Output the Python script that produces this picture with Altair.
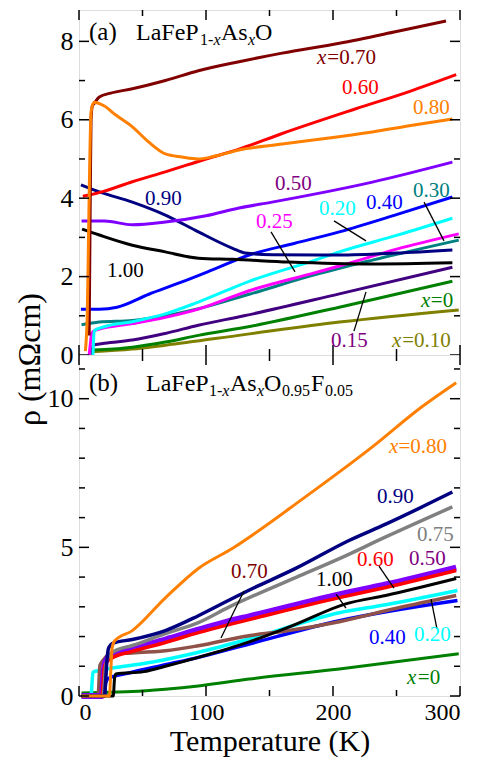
import altair as alt
import pandas as pd

FONT = "Liberation Serif, Times New Roman, Times, serif"
W = 381
HA = 345
HB = 341
XDOM = [0, 300]
YDOM_A = [0, 8.8]
YDOM_B = [0, 11.47]

X_MAJOR = [0, 100, 200, 300]
X_MINOR = [50, 150, 250]
YA_MAJOR = [0, 2, 4, 6, 8]
YA_MINOR = [1, 3, 5, 7]
YB_MAJOR = [0, 5, 10]
YB_MINOR = [1, 2, 3, 4, 6, 7, 8, 9, 11]

# ---------------- panel (a): LaFeP1-xAsxO ----------------
A010_T = [10, 42, 68, 130, 205, 299]
A010_R = [0.08, 0.15, 0.25, 0.52, 0.84, 1.15]
A000_T = [10, 20, 42, 68, 94, 130, 205, 294]
A000_R = [0.13, 0.14, 0.2, 0.33, 0.5, 0.7, 1.22, 1.88]
A015_T = [10, 11, 20, 42, 68, 94, 130, 205, 294]
A015_R = [0.0, 0.25, 0.3, 0.38, 0.55, 0.76, 1.0, 1.56, 2.24]
A030_T = [2, 16, 42, 68, 94, 134, 186, 231, 299]
A030_R = [0.77, 0.84, 0.88, 1.0, 1.18, 1.55, 2.05, 2.42, 2.93]
A025_T = [8, 9, 10, 12, 16, 42, 68, 94, 134, 186, 205, 250, 299]
A025_R = [0.0, 0.3, 0.55, 0.62, 0.66, 0.8, 0.96, 1.17, 1.64, 2.1, 2.27, 2.7, 3.09]
A020_T = [11, 11.5, 12, 20, 42, 68, 94, 134, 186, 205, 250, 294]
A020_R = [0.0, 0.4, 0.62, 0.72, 0.85, 1.05, 1.35, 1.88, 2.42, 2.63, 3.05, 3.49]
A040_T = [1.5, 16, 30, 55, 80, 105, 134, 170, 205, 250, 294]
A040_R = [1.17, 1.17, 1.22, 1.55, 1.85, 2.17, 2.55, 2.85, 3.14, 3.58, 4.03]
A100_T = [2.4, 16, 42, 68, 94, 121, 165, 231, 294]
A100_R = [3.21, 3.06, 2.8, 2.63, 2.47, 2.44, 2.37, 2.32, 2.35]
A090_T = [1.5, 16, 42, 68, 94, 121, 131, 152, 205, 250, 294]
A090_R = [4.34, 4.16, 3.9, 3.57, 3.14, 2.72, 2.6, 2.56, 2.55, 2.6, 2.68]
A050_T = [2, 20, 42, 68, 100, 126, 152, 231, 294]
A050_R = [3.42, 3.42, 3.32, 3.39, 3.55, 3.75, 3.9, 4.41, 4.92]
A060_T = [3, 8, 20, 42, 68, 100, 126, 160, 218, 260, 297]
A060_R = [4.05, 4.08, 4.18, 4.42, 4.67, 5.0, 5.25, 5.65, 6.28, 6.72, 7.15]
A080_T = [5, 6.5, 7.5, 8.5, 9.5, 11.8, 20, 29, 42, 55, 68, 81, 94, 108, 126, 160, 200, 231, 260, 294]
A080_R = [0.1, 1.0, 3.0, 5.0, 6.2, 6.45, 6.35, 6.12, 5.82, 5.43, 5.13, 5.05, 5.0, 5.08, 5.23, 5.38, 5.55, 5.69, 5.85, 6.02]
A070_T = [8, 8.5, 9, 9.5, 10.5, 12, 16, 25, 42, 68, 94, 126, 160, 205, 250, 289]
A070_R = [0.5, 2.5, 4.5, 6.0, 6.35, 6.42, 6.58, 6.68, 6.79, 7.0, 7.25, 7.48, 7.7, 7.95, 8.25, 8.52]

A_SERIES = [
    (A010_T, A010_R, "#808000", 3),
    (A000_T, A000_R, "#008000", 3),
    (A015_T, A015_R, "#400080", 3),
    (A030_T, A030_R, "#008080", 3),
    (A025_T, A025_R, "#FF00FF", 3),
    (A020_T, A020_R, "#00FFFF", 3),
    (A040_T, A040_R, "#0000FF", 3),
    (A100_T, A100_R, "#000000", 3),
    (A090_T, A090_R, "#000080", 3),
    (A050_T, A050_R, "#8000FF", 3),
    (A060_T, A060_R, "#FF0000", 3),
    (A070_T, A070_R, "#800000", 3),
    (A080_T, A080_R, "#FF8000", 3),
]

A_LBL_TEXT = ["=0.70", "0.60", "0.80", "0.50", "0.30", "0.40", "0.20", "0.25", "0.90", "1.00", "=0", "0.15", "=0.10"]
A_LBL_T = [195.5, 207.1, 263, 154.3, 263, 226, 189, 139.4, 52, 22, 277.0, 198.4, 254.5]
A_LBL_R = [7.42, 6.66, 6.15, 4.21, 4.03, 3.72, 3.57, 3.24, 3.83, 1.99, 1.22, 0.20, 0.20]
A_LBL_C = ["#800000", "#FF0000", "#FF8000", "#800080", "#008080", "#0000FF", "#00FFFF", "#FF00FF",
           "#000080", "#000000", "#008000", "#800080", "#808000"]
A_XI_T = [187.4, 269.3, 246.5]
A_XI_R = [7.42, 1.22, 0.20]
A_XI_C = ["#800000", "#008000", "#808000"]

A_FORM_TEXT = ["(a)", "LaFeP", "1-", "As", "O"]
A_FORM_T = [7.87, 44.88, 95.28, 111.8, 138.6]
A_FORM_R = [8.04, 8.04, 7.91, 8.04, 8.04]
A_FORM_S = [25, 24, 16, 24, 24]
A_FORMI_T = [105.9, 133.1]
A_FORMI_R = [7.91, 7.91]

A_LEAD_T = [151.2, 200.8, 271.7, 216.5]
A_LEAD_R = [3.14, 3.42, 3.90, 0.61]
A_LEAD_T2 = [170.1, 226.0, 287.4, 226.0]
A_LEAD_R2 = [2.12, 2.91, 2.91, 1.61]

# ---------------- panel (b): LaFeP1-xAsxO0.95F0.05 ----------------
B000_T = [2, 24.6, 42, 68, 94, 134, 205, 299]
B000_R = [0.1, 0.13, 0.15, 0.23, 0.34, 0.57, 0.91, 1.42]
B040_T = [2, 20, 21, 23, 38, 68, 94, 134, 205, 298]
B040_R = [0, 0, 0.45, 0.59, 0.76, 1.05, 1.3, 1.75, 2.53, 3.21]
B020_T = [2, 9.5, 10.2, 11, 15, 24.6, 51, 90, 134, 205, 241.5, 298]
B020_R = [0.0, 0.0, 0.4, 0.8, 0.85, 0.93, 1.09, 1.43, 1.92, 2.8, 3.07, 3.55]
B100_T = [2, 27, 28, 29, 51, 68, 94, 134, 170, 210, 241.5, 297]
B100_R = [0, 0, 0.6, 0.74, 0.82, 1.0, 1.3, 1.82, 2.4, 3.1, 3.38, 3.95]
B070_T = [2, 15, 16.5, 19, 24.7, 42, 68, 94, 134, 160, 205, 250, 297]
B070_R = [0, 0, 1.03, 1.2, 1.42, 1.45, 1.52, 1.69, 2.03, 2.17, 2.5, 2.95, 3.38]
B050_T = [2, 18, 19, 20, 22, 26, 42, 68, 94, 118, 134, 205, 241.5, 297]
B050_R = [0, 0, 0.5, 1.02, 1.25, 1.38, 1.6, 1.9, 2.23, 2.52, 2.68, 3.42, 3.75, 4.32]
B060_T = [2, 18, 19, 20, 22, 26, 42, 68, 94, 118, 134, 205, 241.5, 297]
B060_R = [0, 0, 0.45, 0.97, 1.15, 1.28, 1.5, 1.8, 2.13, 2.4, 2.57, 3.31, 3.65, 4.22]
B075_T = [2, 19, 21, 24, 30, 42, 68, 94, 118, 171, 205, 241.5, 294]
B075_R = [0, 0, 1.0, 1.4, 1.55, 1.7, 2.1, 2.47, 2.99, 3.99, 4.62, 5.35, 6.36]
B090_T = [2, 20, 21, 22, 23.4, 27, 42, 68, 94, 118, 131, 171, 213, 241.5, 294]
B090_R = [0, 0, 0.5, 1.2, 1.62, 1.78, 1.9, 2.2, 2.7, 3.22, 3.5, 4.3, 5.24, 5.78, 6.86]
B080_T = [2, 24, 25, 26, 28, 42, 68, 94, 121, 178, 231, 270, 297]
B080_R = [0, 0, 0.8, 1.6, 1.85, 2.2, 3.3, 4.29, 4.97, 6.69, 8.38, 9.73, 10.54]

B_SERIES = [
    (B000_T, B000_R, "#008000", 3),
    (B040_T, B040_R, "#0000FF", 3.5),
    (B020_T, B020_R, "#00FFFF", 3.5),
    (B070_T, B070_R, "#8F5148", 3.5),
    (B100_T, B100_R, "#000000", 3),
    (B050_T, B050_R, "#8000FF", 6),
    (B060_T, B060_R, "#FF0000", 3.5),
    (B075_T, B075_R, "#808080", 3.5),
    (B090_T, B090_R, "#000080", 3.5),
    (B080_T, B080_R, "#FF8000", 3),
]

B_LBL_TEXT = ["=0.80", "0.90", "0.75", "0.70", "0.60", "0.50", "1.00", "0.40", "0.20", "=0"]
B_LBL_T = [251.5, 234.6, 266.1, 119.7, 218.9, 259.8, 186.6, 228.3, 263.8, 266.8]
B_LBL_R = [8.17, 6.49, 5.2, 3.97, 4.37, 4.42, 3.70, 1.75, 1.85, 0.40]
B_LBL_C = ["#FF8000", "#000080", "#808080", "#800000", "#FF0000", "#800080", "#000000",
           "#0000FF", "#00FFFF", "#008000"]
B_XI_T = [244.1, 258.3]
B_XI_R = [8.17, 0.40]
B_XI_C = ["#FF8000", "#008000"]

B_FORM_TEXT = ["(b)", "LaFeP", "1-", "As", "O", "0.95", "F", "0.05"]
B_FORM_T = [7.87, 52.76, 102.4, 118.9, 145.7, 159.8, 182.7, 193.7]
B_FORM_R = [10.26, 10.26, 10.09, 10.26, 10.26, 10.09, 10.26, 10.09]
B_FORM_S = [25, 24, 16, 24, 24, 16, 24, 16]
B_FORMI_T = [112.8, 140.2]
B_FORMI_R = [10.09, 10.09]

B_LEAD_T = [129.9, 202.4, 236.2, 277.2]
B_LEAD_R = [3.53, 3.43, 4.37, 3.26]
B_LEAD_T2 = [111.8, 210.2, 248.0, 281.9]
B_LEAD_R2 = [1.95, 2.96, 3.63, 2.25]


def panel(series, lbl, xi, form, formi, lead, ydom, H, ymajor, yminor, show_x, ytitle):
    xs = alt.Scale(domain=XDOM, nice=False, zero=False)
    ys = alt.Scale(domain=ydom, nice=False, zero=False)
    if show_x:
        xaxis = alt.Axis(values=X_MAJOR, ticks=False, domain=False, grid=False,
                         labelFontSize=24, labelPadding=4, labelFont=FONT,
                         titleFont=FONT, titleFontSize=30, titleFontWeight="normal",
                         titlePadding=2, labelColor="black", titleColor="black")
        X = alt.X("T:Q", scale=xs, axis=xaxis, title="Temperature (K)")
    else:
        X = alt.X("T:Q", scale=xs, axis=None)
    if ytitle:
        yaxis = alt.Axis(values=ymajor, ticks=False, domain=False, grid=False,
                         labelFontSize=26, labelPadding=6, labelFont=FONT,
                         titleFont=FONT, titleFontSize=32, titleFontWeight="normal",
                         titleX=-50, titleY=349, titleAngle=270, titleAlign="center",
                         titleBaseline="middle", labelColor="black", titleColor="black")
        Y = alt.Y("rho:Q", scale=ys, axis=yaxis, title=ytitle)
    else:
        yaxis = alt.Axis(values=ymajor, ticks=False, domain=False, grid=False,
                         labelFontSize=26, labelPadding=6, labelFont=FONT,
                         labelColor="black")
        Y = alt.Y("rho:Q", scale=ys, axis=yaxis, title=None)

    layers = []
    for T, R, color, w in series:
        df = pd.DataFrame({"T": T, "rho": R})
        layers.append(alt.Chart(df).mark_line(color=color, strokeWidth=w,
                                              interpolate="monotone").encode(x=X, y=Y))

    # leader lines
    ldf = pd.DataFrame({"T": lead[0], "rho": lead[1], "T2": lead[2], "rho2": lead[3]})
    layers.append(alt.Chart(ldf).mark_rule(color="black", strokeWidth=1.3).encode(
        x=X, y=Y, x2="T2:Q", y2="rho2:Q"))

    # ticks (inward)
    for vals, ln in [(X_MAJOR, 10), (X_MINOR, 6)]:
        tdf = pd.DataFrame({"T": vals})
        layers.append(alt.Chart(tdf).mark_rule(color="black", strokeWidth=1.5).encode(
            x=X, y=alt.value(H), y2=alt.value(H - ln)))
        layers.append(alt.Chart(tdf).mark_rule(color="black", strokeWidth=1.5).encode(
            x=X, y=alt.value(0), y2=alt.value(ln)))
    for vals, ln in [(ymajor, 10), (yminor, 6)]:
        tdf = pd.DataFrame({"rho": vals})
        layers.append(alt.Chart(tdf).mark_rule(color="black", strokeWidth=1.5).encode(
            y=Y, x=alt.value(0), x2=alt.value(ln)))
        layers.append(alt.Chart(tdf).mark_rule(color="black", strokeWidth=1.5).encode(
            y=Y, x=alt.value(W), x2=alt.value(W - ln)))

    # labels
    tdf = pd.DataFrame({"T": lbl[1], "rho": lbl[2], "text": lbl[0], "color": lbl[3]})
    layers.append(alt.Chart(tdf).mark_text(align="left", baseline="alphabetic", font=FONT,
                                           fontSize=21).encode(
        x=X, y=Y, text="text:N", color=alt.Color("color:N", scale=None)))
    idf = pd.DataFrame({"T": xi[0], "rho": xi[1], "text": ["x"] * len(xi[0]), "color": xi[2]})
    layers.append(alt.Chart(idf).mark_text(align="left", baseline="alphabetic", font=FONT,
                                           fontSize=21, fontStyle="italic").encode(
        x=X, y=Y, text="text:N", color=alt.Color("color:N", scale=None)))

    # formula
    fdf = pd.DataFrame({"T": form[1], "rho": form[2], "text": form[0], "size": form[3]})
    layers.append(alt.Chart(fdf).mark_text(align="left", baseline="alphabetic", font=FONT,
                                           color="black").encode(
        x=X, y=Y, text="text:N", size=alt.Size("size:Q", scale=None)))
    fidf = pd.DataFrame({"T": formi[0], "rho": formi[1], "text": ["x"] * len(formi[0])})
    layers.append(alt.Chart(fidf).mark_text(align="left", baseline="alphabetic", font=FONT,
                                            fontSize=16, fontStyle="italic",
                                            color="black").encode(
        x=X, y=Y, text="text:N"))

    return alt.layer(*layers).properties(width=W, height=H)


pa = panel(A_SERIES, (A_LBL_TEXT, A_LBL_T, A_LBL_R, A_LBL_C), (A_XI_T, A_XI_R, A_XI_C),
           (A_FORM_TEXT, A_FORM_T, A_FORM_R, A_FORM_S), (A_FORMI_T, A_FORMI_R),
           (A_LEAD_T, A_LEAD_R, A_LEAD_T2, A_LEAD_R2), YDOM_A, HA, YA_MAJOR, YA_MINOR,
           False, "ρ (mΩcm)")
pb = panel(B_SERIES, (B_LBL_TEXT, B_LBL_T, B_LBL_R, B_LBL_C), (B_XI_T, B_XI_R, B_XI_C),
           (B_FORM_TEXT, B_FORM_T, B_FORM_R, B_FORM_S), (B_FORMI_T, B_FORMI_R),
           (B_LEAD_T, B_LEAD_R, B_LEAD_T2, B_LEAD_R2), YDOM_B, HB, YB_MAJOR, YB_MINOR,
           True, None)

chart = alt.vconcat(pa, pb, spacing=0, bounds="flush").properties(
    padding={"left": 4, "top": 0, "right": 5, "bottom": 2}
).configure_view(stroke="black", strokeWidth=2).configure(background="white")

chart.save("out.html", embed_options={"renderer": "svg", "actions": False})
